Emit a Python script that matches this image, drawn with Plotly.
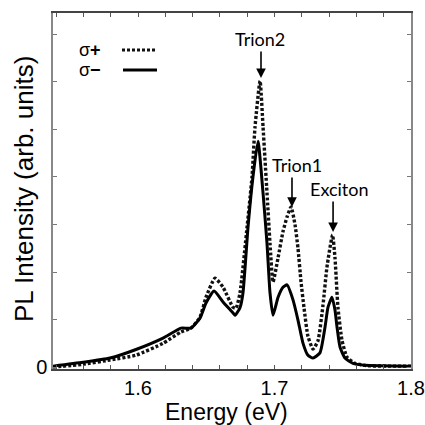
import plotly.graph_objects as go

# sigma- (solid) spectrum
energy_minus = [1.5377, 1.5597, 1.5795, 1.5985, 1.6183, 1.6315, 1.6388, 1.6454, 1.6498, 1.6557,
                1.6623, 1.6696, 1.6711, 1.6747, 1.6769, 1.6806, 1.6842, 1.6879, 1.6916, 1.6945,
                1.6967, 1.6989, 1.7026, 1.7062, 1.7092, 1.7136, 1.7172, 1.7209, 1.7245, 1.7282,
                1.7333, 1.7370, 1.7392, 1.7421, 1.7443, 1.7458, 1.7480, 1.7516, 1.7575, 1.7663, 1.8000]
pl_minus = [0.02, 0.10, 0.19, 0.37, 0.61, 0.82, 0.82, 1.03, 1.35, 1.60,
            1.37, 1.14, 1.09, 1.25, 1.56, 2.95, 4.00, 4.75, 3.66, 2.60,
            1.56, 1.09, 1.47, 1.68, 1.73, 1.41, 0.99, 0.50, 0.25, 0.19,
            0.30, 0.84, 1.26, 1.47, 1.20, 0.84, 0.42, 0.19, 0.08, 0.04, 0.02]

# sigma+ (dotted) spectrum
energy_plus = [1.5377, 1.5597, 1.5795, 1.5985, 1.6183, 1.6315, 1.6388, 1.6454, 1.6498, 1.6564,
               1.6623, 1.6696, 1.6718, 1.6747, 1.6799, 1.6835, 1.6857, 1.6894, 1.6916, 1.6945,
               1.6967, 1.6989, 1.7026, 1.7062, 1.7092, 1.7121, 1.7150, 1.7172, 1.7194, 1.7216,
               1.7245, 1.7282, 1.7318, 1.7355, 1.7384, 1.7425, 1.7443, 1.7465, 1.7494, 1.7531,
               1.7589, 1.7677, 1.8000]
pl_plus = [0.00, 0.06, 0.15, 0.25, 0.50, 0.74, 0.82, 1.05, 1.47, 1.87,
           1.68, 1.26, 1.24, 1.56, 2.95, 4.00, 5.05, 6.02, 5.05, 3.66,
           2.60, 1.79, 2.30, 2.85, 3.16, 3.37, 3.00, 2.50, 1.80, 1.25,
           0.65, 0.38, 0.55, 1.30, 2.10, 2.78, 2.30, 1.25, 0.57, 0.21,
           0.08, 0.03, 0.02]

x_tick_vals = [1.54, 1.56, 1.58, 1.60, 1.62, 1.64, 1.66, 1.68, 1.70, 1.72, 1.74, 1.76, 1.78, 1.80]
x_tick_text = ["", "", "", "1.6", "", "", "", "", "1.7", "", "", "", "", "1.8"]
y_tick_vals = [0, 1, 2, 3, 4, 5, 6, 7]
y_tick_text = ["0", "", "", "", "", "", "", ""]

# peak labels: (text, arrow-head energy, arrow-head intensity)
peak_labels = ["Trion2", "Trion1", "Exciton"]
peak_energy = [1.6901, 1.7128, 1.7429]
peak_height = [6.08, 3.37, 2.84]

W, H = 425, 425
ML, MR, MT, MB = 53, 14, 13, 56
PW, PH = W - ML - MR, H - MT - MB

fig = go.Figure()
fig.add_trace(go.Scatter(x=energy_plus, y=pl_plus, mode="lines", name="σ+",
                         line=dict(color="#111", width=3.4, dash="3px,2px", shape="spline", smoothing=0.5)))
fig.add_trace(go.Scatter(x=energy_minus, y=pl_minus, mode="lines", name="σ−",
                         line=dict(color="#000", width=3, shape="spline", smoothing=0.5)))

font_arial = "Liberation Sans, Arial, sans-serif"
label_font = dict(family="Lato, Calibri, sans-serif", size=18, color="#000")

# arrows and peak labels
arrow_len = [28, 31, 32]
text_dx = [-1, 5, 6]
for lab, ex, hy, al, dx in zip(peak_labels, peak_energy, peak_height, arrow_len, text_dx):
    fig.add_annotation(x=ex, y=hy, xref="x", yref="y", text="", showarrow=True,
                       ax=0, ay=-al, arrowhead=2, arrowsize=1.2, arrowwidth=1.6, arrowcolor="#000")
    fig.add_annotation(x=ex, y=hy, xref="x", yref="y", text=lab, showarrow=False,
                       xshift=dx, yshift=al + 11, font=label_font)


def px_x(p):
    return (p - ML) / PW


def px_y(p):
    return (H - MB - p) / PH


# legend (text + line samples)
for txt, yp in [("σ<b>+</b>", 50), ("σ<b>−</b>", 70)]:
    fig.add_annotation(x=px_x(77), y=px_y(yp), xref="paper", yref="paper", text=txt, showarrow=False,
                       xanchor="left", yanchor="middle", font=dict(family=font_arial, size=18, color="#000"))
fig.add_shape(type="line", xref="paper", yref="paper", x0=px_x(122), x1=px_x(157), y0=px_y(50), y1=px_y(50),
              line=dict(color="#111", width=3, dash="3px,2px"))
fig.add_shape(type="line", xref="paper", yref="paper", x0=px_x(123), x1=px_x(157), y0=px_y(70), y1=px_y(70),
              line=dict(color="#000", width=3))

# axis titles
fig.add_annotation(x=px_x(226), y=px_y(411.5), xref="paper", yref="paper", text="Energy (eV)",
                   showarrow=False, xanchor="center", yanchor="middle",
                   font=dict(family=font_arial, size=23, color="#000"))
fig.add_annotation(x=px_x(24), y=px_y(189), xref="paper", yref="paper", text="PL Intensity (arb. units)",
                   showarrow=False, xanchor="center", yanchor="middle", textangle=-90,
                   font=dict(family=font_arial, size=26, color="#000"))

fig.update_layout(
    width=W, height=H,
    margin=dict(l=ML, r=MR, t=MT, b=MB, autoexpand=False),
    paper_bgcolor="white", plot_bgcolor="white",
    showlegend=False,
    font=dict(family=font_arial, color="#000"),
)
fig.update_xaxes(range=[1.5377, 1.8], tickvals=x_tick_vals, ticktext=x_tick_text,
                 ticks="inside", ticklen=4, tickcolor="#555", tickwidth=1,
                 showline=True, linecolor="#444", linewidth=1.5, mirror="ticks",
                 showgrid=False, zeroline=False, tickfont=dict(size=20), automargin=False)
fig.update_yaxes(range=[-0.04, 7.45], tickvals=y_tick_vals, ticktext=y_tick_text,
                 ticks="inside", ticklen=4, tickcolor="#777", tickwidth=1,
                 showline=True, linecolor="#888", linewidth=1.5, mirror="ticks",
                 showgrid=False, zeroline=False, tickfont=dict(size=20), automargin=False)

fig.write_html("out.html", config={"displayModeBar": False},
               post_script="document.body.style.margin='0';document.body.style.padding='0';")
